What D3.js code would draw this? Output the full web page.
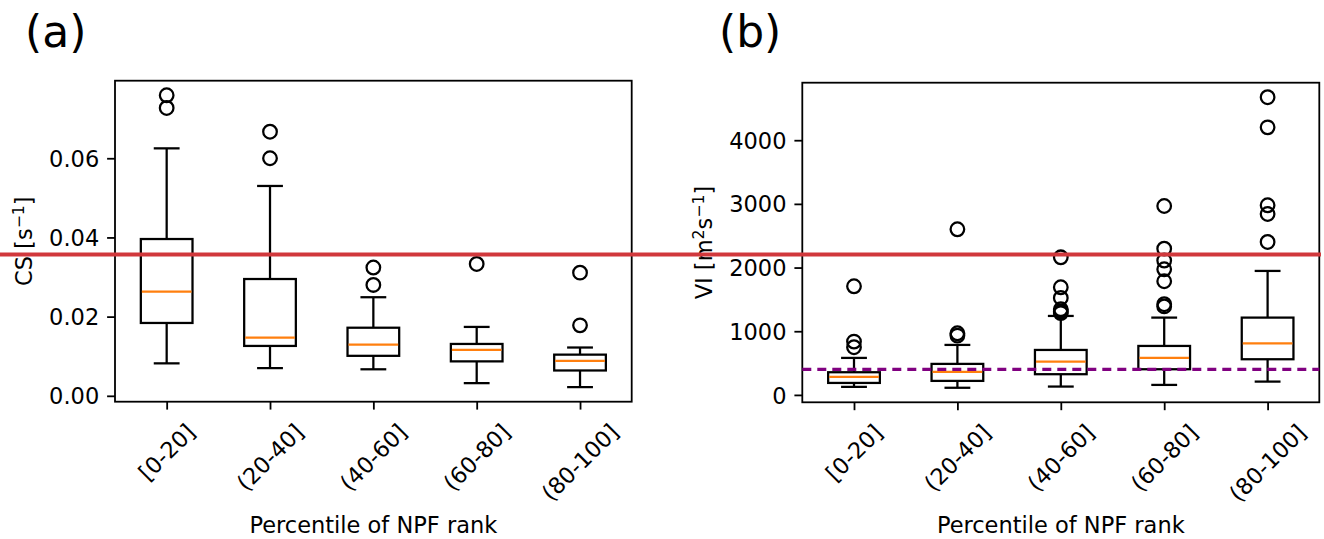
<!DOCTYPE html>
<html>
<head>
<meta charset="utf-8">
<script src="https://cdn.jsdelivr.net/npm/d3@7"></script>
<style>
  html, body { margin: 0; padding: 0; background: #fff; }
  svg { display: block; }
</style>
</head>
<body>
<svg id="fig" width="1324" height="539"></svg>
<script>
// Percentile bins of the NPF rank
const categories = ["[0-20]", "(20-40]", "(40-60]", "(60-80]", "(80-100]"];

// Condensation sink CS [s^-1]: box statistics per bin
const csWhiskerLow  = [0.0082, 0.0070, 0.0067, 0.0032, 0.0022];
const csQ1          = [0.0184, 0.0126, 0.0101, 0.0087, 0.0064];
const csMedian      = [0.0263, 0.0147, 0.0129, 0.0116, 0.0088];
const csQ3          = [0.0396, 0.0295, 0.0172, 0.0131, 0.0104];
const csWhiskerHigh = [0.0625, 0.0530, 0.0249, 0.0174, 0.0122];
const csOutliers    = [[0.0759, 0.0727], [0.0667, 0.0600], [0.0324, 0.0280], [0.0333], [0.0311, 0.0178]];
const csTicks       = [0, 0.02, 0.04, 0.06];
const csMarker      = 0.0357;

// Ventilation index VI [m^2 s^-1]: box statistics per bin
const viWhiskerLow  = [126, 112, 131, 157, 209];
const viQ1          = [188, 220, 325, 403, 560];
const viMedian      = [283, 361, 523, 581, 811];
const viQ3          = [356, 487, 706, 769, 1214];
const viWhiskerHigh = [581, 785, 1240, 1214, 1947];
const viOutliers    = [[1706, 837, 749], [2601, 968, 931], [2161, 1690, 1523, 1345, 1310, 1285],
                       [2967, 2297, 2110, 1973, 1785, 1424, 1390], [4675, 4202, 2978, 2841, 2402]];
const viTicks       = [0, 1000, 2000, 3000, 4000];
const viReference   = 400;

const FONT = "DejaVu Sans";
const FS = 22.5;          // tick and axis label size
const TICK = 7.9, PAD = 7.9;
const LW = 2.26;          // box line width
const svg = d3.select("#fig");

function drawPanel(cfg) {
  const g = svg.append("g");
  const x = d3.scalePoint().domain(categories).range([cfg.left, cfg.right]).padding(0.5);
  const allVals = [...cfg.low, ...cfg.high, ...cfg.outliers.flat()];
  const [mn, mx] = d3.extent(allVals);
  const m = (mx - mn) * 0.05;
  const y = d3.scaleLinear().domain([mn - m, mx + m]).range([cfg.bottom, cfg.top]);
  const step = x.step();
  const bw = step * 0.5, cw = step * 0.25;

  const boxes = categories.map((c, i) => ({
    c, low: cfg.low[i], q1: cfg.q1[i], med: cfg.med[i], q3: cfg.q3[i], high: cfg.high[i], out: cfg.outliers[i]
  }));

  const bg = g.append("g").attr("fill", "none").attr("stroke", "#000").attr("stroke-width", LW);
  const b = bg.selectAll("g.box").data(boxes).join("g").attr("class", "box");
  // whiskers
  b.append("line").attr("x1", d => x(d.c)).attr("x2", d => x(d.c))
    .attr("y1", d => y(d.q1)).attr("y2", d => y(d.low));
  b.append("line").attr("x1", d => x(d.c)).attr("x2", d => x(d.c))
    .attr("y1", d => y(d.q3)).attr("y2", d => y(d.high));
  // caps
  b.append("line").attr("x1", d => x(d.c) - cw / 2).attr("x2", d => x(d.c) + cw / 2)
    .attr("y1", d => y(d.low)).attr("y2", d => y(d.low));
  b.append("line").attr("x1", d => x(d.c) - cw / 2).attr("x2", d => x(d.c) + cw / 2)
    .attr("y1", d => y(d.high)).attr("y2", d => y(d.high));
  // box
  b.append("rect").attr("x", d => x(d.c) - bw / 2).attr("width", bw)
    .attr("y", d => y(d.q3)).attr("height", d => y(d.q1) - y(d.q3));
  // median
  b.append("line").attr("stroke", "#ff7f0e")
    .attr("x1", d => x(d.c) - bw / 2 + 1).attr("x2", d => x(d.c) + bw / 2 - 1)
    .attr("y1", d => y(d.med)).attr("y2", d => y(d.med));
  // fliers
  b.selectAll("circle").data(d => d.out.map(v => ({ c: d.c, v }))).join("circle")
    .attr("cx", d => x(d.c)).attr("cy", d => y(d.v)).attr("r", 6.8);

  // y axis
  const ya = g.append("g").attr("transform", `translate(${cfg.left},0)`)
    .call(d3.axisLeft(y).tickValues(cfg.ticks).tickSize(TICK).tickPadding(PAD).tickFormat(cfg.fmt));
  ya.select(".domain").remove();
  ya.selectAll(".tick line").attr("stroke", "#000").attr("stroke-width", 1.8);
  ya.selectAll(".tick text").attr("fill", "#000").attr("dy", "0.36em")
    .style("font-family", FONT).style("font-size", FS + "px");

  // x axis with rotated labels
  const xa = g.append("g").attr("transform", `translate(0,${cfg.bottom})`)
    .call(d3.axisBottom(x).tickSize(TICK).tickPadding(PAD));
  xa.select(".domain").remove();
  xa.selectAll(".tick line").attr("stroke", "#000").attr("stroke-width", 1.8);
  xa.selectAll(".tick text").attr("fill", "#000")
    .style("font-family", FONT).style("font-size", FS + "px")
    .attr("text-anchor", "middle").attr("y", null).attr("dy", "0.32em")
    .each(function () {
      const w = this.getComputedTextLength();
      const half = (w + FS) * Math.SQRT1_2 / 2;
      d3.select(this).attr("transform", `translate(0,${TICK + PAD + 3 + half}) rotate(-45)`);
    });

  // frame
  g.append("rect").attr("x", cfg.left).attr("y", cfg.top)
    .attr("width", cfg.right - cfg.left).attr("height", cfg.bottom - cfg.top)
    .attr("fill", "none").attr("stroke", "#000").attr("stroke-width", 1.8);

  // axis titles
  g.append("text").attr("x", (cfg.left + cfg.right) / 2).attr("y", 533)
    .attr("text-anchor", "middle").style("font-family", FONT).style("font-size", FS + "px")
    .text("Percentile of NPF rank");

  const yl = g.append("text")
    .attr("transform", `translate(${cfg.ylabelX},${(cfg.top + cfg.bottom) / 2}) rotate(-90)`)
    .attr("text-anchor", "middle").style("font-family", FONT).style("font-size", FS + "px");
  cfg.ylabel.forEach(part => {
    const t = yl.append("tspan").text(part.t);
    if (part.sup) t.style("font-size", (FS * 0.7) + "px").attr("dy", -8);
    if (part.after) t.attr("dy", 8);
  });

  // panel tag
  svg.append("text").attr("x", cfg.tagX).attr("y", 47)
    .style("font-family", FONT).style("font-size", "44px").text(cfg.tag);

  return { x, y };
}

const pa = drawPanel({
  left: 115, right: 631.7, top: 80.7, bottom: 401.7,
  low: csWhiskerLow, q1: csQ1, med: csMedian, q3: csQ3, high: csWhiskerHigh, outliers: csOutliers,
  ticks: csTicks, fmt: d3.format(".2f"),
  ylabelX: 32, ylabel: [{ t: "CS [s" }, { t: "\u22121", sup: true }, { t: "]", after: true }],
  tag: "(a)", tagX: 25
});

const pb = drawPanel({
  left: 802.3, right: 1319.3, top: 82.7, bottom: 402.3,
  low: viWhiskerLow, q1: viQ1, med: viMedian, q3: viQ3, high: viWhiskerHigh, outliers: viOutliers,
  ticks: viTicks, fmt: d3.format("d"),
  ylabelX: 712, ylabel: [{ t: "VI [m" }, { t: "2", sup: true }, { t: "s", after: true },
                         { t: "\u22121", sup: true }, { t: "]", after: true }],
  tag: "(b)", tagX: 719
});

// reference level in panel (b)
svg.append("line")
  .attr("x1", 802.3).attr("x2", 1319.3)
  .attr("y1", pb.y(viReference)).attr("y2", pb.y(viReference))
  .attr("stroke", "#800080").attr("stroke-width", 3.3).attr("stroke-dasharray", "9,6");

// horizontal marker across the figure
svg.append("line")
  .attr("x1", 0).attr("x2", 1321)
  .attr("y1", pa.y(csMarker)).attr("y2", pa.y(csMarker))
  .attr("stroke", "#d1383c").attr("stroke-width", 4);
</script>
</body>
</html>
